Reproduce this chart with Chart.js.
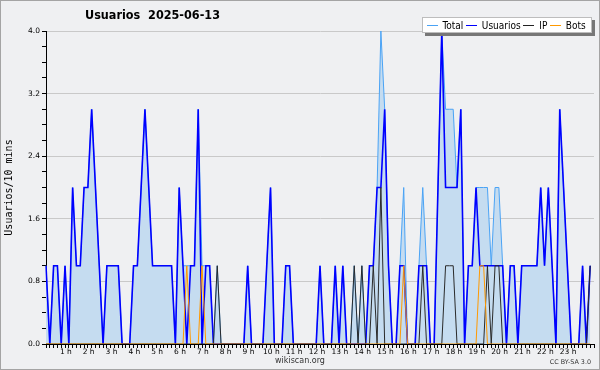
<!DOCTYPE html>
<html>
<head>
<meta charset="utf-8">
<script src="https://cdn.jsdelivr.net/npm/chart.js@4.4.1/dist/chart.umd.min.js"></script>
<style>
  html, body { margin: 0; padding: 0; background: #fff; }
  #wrap { position: relative; width: 600px; height: 370px; background: #eff0f2; overflow: hidden; }
  #wrap canvas { position: absolute; left: 0; top: 0; }
  #frame { position: absolute; left: 0; top: 0; width: 600px; height: 370px; box-sizing: border-box; border: 1px solid #a4a4a4; pointer-events: none; }
  #titulo { position: absolute; left: 85px; top: 7px; font: bold 12.5px "DejaVu Sans Condensed", "DejaVu Sans", sans-serif; white-space: pre; color: #000; }
  #leyenda { position: absolute; left: 422px; top: 17px; width: 168px; height: 14px; background: #fff; border: 1px solid #bdbdbd; box-shadow: 3px 3px 0 #777; display: flex; align-items: center; font: 10px "DejaVu Sans Condensed", "DejaVu Sans", sans-serif; color: #000; }
  #leyenda .m { display: block; width: 11px; height: 1px; margin-left: 2.5px; }
  #leyenda .m:first-child { margin-left: 3.5px; }
  #leyenda .t { margin-left: 5px; }
  #pie { position: absolute; left: 0; width: 600px; top: 356px; text-align: center; font: 8px "DejaVu Sans", sans-serif; color: #333; }
  #lic { position: absolute; right: 9px; top: 358px; font: 6.4px "DejaVu Sans", sans-serif; color: #333; }
</style>
</head>
<body>
<div id="wrap">
  <canvas id="grafico" width="600" height="370"></canvas>
  <div id="titulo">Usuarios  2025-06-13</div>
  <div id="leyenda">
    <span class="m" style="background:#4aa3f5"></span><span class="t">Total</span>
    <span class="m" style="background:#0000ff"></span><span class="t">Usuarios</span>
    <span class="m" style="background:#222"></span><span class="t">IP</span>
    <span class="m" style="background:#ff9900"></span><span class="t">Bots</span>
  </div>
  <div id="pie">wikiscan.org</div>
  <div id="lic">CC BY-SA 3.0</div>
  <div id="frame"></div>
</div>
<script>
// one value every 10 minutes, 144 per day
const usuarios = [
  1,0,1,1,0,1,0,2,1,1,2,2,
  3,2,1,0,1,1,1,1,0,0,0,1,
  1,2,3,2,1,1,1,1,1,1,0,2,
  1,0,1,1,3,0,1,1,0,0,0,0,
  0,0,0,0,0,1,0,0,0,0,1,2,
  0,0,0,1,1,0,0,0,0,0,0,0,
  1,0,0,0,1,0,1,0,0,0,0,0,
  0,1,1,2,2,3,1,0,0,1,1,0,
  0,0,1,1,1,0,0,2,4,2,2,2,
  2,3,0,1,1,2,1,1,1,1,1,1,
  1,0,1,1,0,1,1,1,1,1,2,1,
  2,1,0,3,2,1,0,0,0,1,0,1
];
const total = [
  1,0,1,1,0,1,0,2,1,1,2,2,
  3,2,1,0,1,1,1,1,0,0,0,1,
  1,2,3,2,1,1,1,1,1,1,0,2,
  1,1,1,1,3,1,1,1,0,1,0,0,
  0,0,0,0,0,1,0,0,0,0,1,2,
  0,0,0,1,1,0,0,0,0,0,0,0,
  1,0,0,0,1,0,1,0,0,1,0,1,
  0,1,1,2,4,3,1,0,0,1,2,0,
  0,0,1,2,1,0,0,2,4,3,3,3,
  2,3,0,1,1,2,2,2,2,1,2,2,
  1,0,1,1,0,1,1,1,1,1,2,1,
  2,1,0,3,2,1,0,0,0,1,0,1
];
const ip = [
  0,0,0,0,0,0,0,0,0,0,0,0,
  0,0,0,0,0,0,0,0,0,0,0,0,
  0,0,0,0,0,0,0,0,0,0,0,0,
  0,0,0,0,0,0,0,0,0,1,0,0,
  0,0,0,0,0,0,0,0,0,0,0,0,
  0,0,0,0,0,0,0,0,0,0,0,0,
  0,0,0,0,0,0,0,0,0,1,0,1,
  0,0,1,0,2,0,0,0,0,0,0,0,
  0,0,0,1,0,0,0,0,0,1,1,1,
  0,0,0,0,0,0,0,0,1,0,1,1,
  0,0,0,0,0,0,0,0,0,0,0,0,
  0,0,0,0,0,0,0,0,0,0,0,1
];
const bots = [
  0,0,0,0,0,0,0,0,0,0,0,0,
  0,0,0,0,0,0,0,0,0,0,0,0,
  0,0,0,0,0,0,0,0,0,0,0,0,
  0,1,0,0,0,1,0,0,0,0,0,0,
  0,0,0,0,0,0,0,0,0,0,0,0,
  0,0,0,0,0,0,0,0,0,0,0,0,
  0,0,0,0,0,0,0,0,0,0,0,0,
  0,0,0,0,0,0,0,0,0,0,1,0,
  0,0,0,0,0,0,0,0,0,0,0,0,
  0,0,0,0,0,0,1,1,0,0,0,0,
  0,0,0,0,0,0,0,0,0,0,0,0,
  0,0,0,0,0,0,0,0,0,0,0,0
];
const etiquetasHoras = ['1 h','2 h','3 h','4 h','5 h','6 h','7 h','8 h','9 h','10 h','11 h','12 h',
  '13 h','14 h','15 h','16 h','17 h','18 h','19 h','20 h','21 h','22 h','23 h'];
const marcasY = ['0.0','0.8','1.6','2.4','3.2','4.0'];

// 145 slots so that the axis runs up to 24:00
const horas = [];
for (let i = 0; i <= 144; i++) {
  const h = Math.floor(i / 6), m = (i % 6) * 10;
  horas.push(String(h).padStart(2, '0') + ':' + String(m).padStart(2, '0'));
}

Chart.defaults.font.family = '"DejaVu Sans", sans-serif';
Chart.defaults.color = '#000';

const linea = { pointRadius: 0, pointHoverRadius: 0, tension: 0, fill: false };

new Chart(document.getElementById('grafico'), {
  type: 'line',
  data: {
    labels: horas,
    datasets: [
      { ...linea, label: 'Total', data: total, borderColor: '#4aa3f5', borderWidth: 1, backgroundColor: '#c5dcf0', fill: 'origin', order: 4 },
      { ...linea, label: 'Usuarios', data: usuarios, borderColor: '#0000ff', borderWidth: 1.6, order: 3 },
      { ...linea, label: 'IP', data: ip, borderColor: '#2a2a2a', borderWidth: 1, order: 2 },
      { ...linea, label: 'Bots', data: bots, borderColor: '#ff9900', borderWidth: 1, order: 1 }
    ]
  },
  options: {
    responsive: false,
    animation: false,
    events: [],
    layout: { padding: { left: 0, top: 31, right: 6, bottom: 0 } },
    plugins: { legend: { display: false }, tooltip: { enabled: false }, title: { display: false } },
    scales: {
      x: {
        type: 'category',
        offset: false,
        z: 1,
        grid: { drawOnChartArea: false, drawTicks: true, tickLength: 4, tickColor: '#000', tickWidth: 1 },
        border: { color: '#000', width: 1 },
        ticks: {
          autoSkip: false, maxRotation: 0, minRotation: 0, padding: 0, labelOffset: -3,
          font: { size: 7.5 }, color: '#000',
          callback: (v, i) => (i % 6 === 0 && i > 0 && i < 144) ? etiquetasHoras[i / 6 - 1] : ''
        },
        afterFit: s => { s.height = 26; }
      },
      y: {
        min: 0, max: 4,
        grid: {
          color: c => (Math.round(c.tick.value * 10) % 8 === 0) ? '#c9c9c9' : 'rgba(0,0,0,0)',
          drawTicks: true, tickLength: 4, tickColor: '#000'
        },
        border: { color: '#000', width: 1 },
        ticks: {
          stepSize: 0.2, autoSkip: false, padding: 2, font: { size: 7.5 }, color: '#000',
          callback: v => {
            const k = Math.round(v * 10);
            return k % 8 === 0 ? marcasY[k / 8] : '';
          }
        },
        title: { display: true, text: 'Usuarios/10 mins', color: '#000', font: { family: '"DejaVu Sans Mono", monospace', size: 10 }, padding: { top: 3, bottom: 0 } },
        afterFit: s => { s.width = 46; }
      }
    }
  }
});
</script>
</body>
</html>
